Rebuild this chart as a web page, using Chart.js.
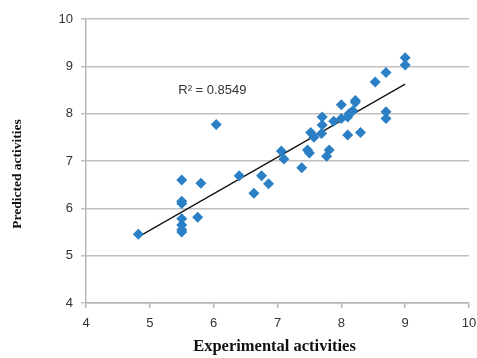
<!DOCTYPE html>
<html>
<head>
<meta charset="utf-8">
<script src="https://cdn.jsdelivr.net/npm/chart.js@4"></script>
<style>
  html, body { margin: 0; padding: 0; background: #fff; }
  #wrap { width: 477px; height: 358px; }
</style>
</head>
<body>
<div id="wrap"><canvas id="chart" width="477" height="358"></canvas></div>
<script>
// valores
var experimental = [4.82, 5.5, 5.5, 5.5, 5.5, 5.5, 5.5, 5.5, 5.75, 5.8,
  6.04, 6.4, 6.63, 6.75, 6.86, 7.06, 7.1, 7.38, 7.47, 7.5,
  7.52, 7.57, 7.69, 7.7, 7.7, 7.77, 7.81, 7.88, 8.0, 8.0,
  8.1, 8.12, 8.1, 8.18, 8.22, 8.22, 8.3, 8.53, 8.7, 8.7,
  8.7, 9.0, 9.0];
var predicted = [5.45, 6.6, 6.15, 6.1, 5.78, 5.65, 5.55, 5.5, 5.81, 6.53,
  7.77, 6.69, 6.32, 6.69, 6.52, 7.21, 7.04, 6.86, 7.23, 7.17,
  7.6, 7.5, 7.58, 7.76, 7.93, 7.1, 7.23, 7.84, 7.9, 8.19,
  7.93, 8.0, 7.55, 8.06, 8.28, 8.24, 7.6, 8.67, 8.87, 8.04,
  7.9, 9.18, 9.03];
var xTicks = [4, 5, 6, 7, 8, 9, 10];
var yTicks = [4, 5, 6, 7, 8, 9, 10];
var r2Label = 'R\u00b2 = 0.8549';

// linha de tendência por mínimos quadrados
function trendLine(xs, ys) {
  var n = xs.length, sx = 0, sy = 0, sxx = 0, sxy = 0;
  for (var i = 0; i < n; i++) {
    sx += xs[i]; sy += ys[i]; sxx += xs[i] * xs[i]; sxy += xs[i] * ys[i];
  }
  var b = (n * sxy - sx * sy) / (n * sxx - sx * sx);
  var a = (sy - b * sx) / n;
  var x0 = Math.min.apply(null, xs), x1 = Math.max.apply(null, xs);
  return [{ x: x0, y: a + b * x0 }, { x: x1, y: a + b * x1 }];
}

var points = experimental.map(function(x, i) { return { x: x, y: predicted[i] }; });

var titlesPlugin = {
  id: 'titles',
  afterDraw: function(chart) {
    var ctx = chart.ctx, area = chart.chartArea;
    var xs = chart.scales.x, ys = chart.scales.y;
    ctx.save();
    // R²
    ctx.font = '13px "Liberation Sans", Arial, sans-serif';
    ctx.fillStyle = '#333';
    ctx.textAlign = 'center';
    ctx.textBaseline = 'middle';
    ctx.fillText(r2Label, xs.getPixelForValue(5.98), ys.getPixelForValue(8.5));
    // títulos dos eixos
    ctx.fillStyle = '#111';
    ctx.font = 'bold 16.5px "Liberation Serif", "Times New Roman", serif';
    ctx.fillText('Experimental activities', (area.left + area.right) / 2 - 3, 347);
    ctx.font = 'bold 13.5px "Liberation Serif", "Times New Roman", serif';
    ctx.translate(18, 174);
    ctx.rotate(-Math.PI / 2);
    ctx.fillText('Predicted activities', 0, 0);
    ctx.restore();
  }
};

var tickFont = { family: '"Liberation Sans", Arial, sans-serif', size: 13 };

new Chart(document.getElementById('chart').getContext('2d'), {
  type: 'scatter',
  data: {
    datasets: [
      {
        data: points,
        pointStyle: 'rectRot',
        pointRadius: 5.5,
        pointHoverRadius: 5.5,
        backgroundColor: '#2b80c5',
        borderColor: '#2b80c5',
        borderWidth: 0
      },
      {
        type: 'line',
        data: trendLine(experimental, predicted),
        borderColor: '#111',
        borderWidth: 1.2,
        pointRadius: 0,
        fill: false
      }
    ]
  },
  options: {
    responsive: false,
    animation: false,
    layout: { padding: { left: 0, top: 19, right: 8, bottom: 0 } },
    plugins: { legend: { display: false }, tooltip: { enabled: false } },
    scales: {
      x: {
        type: 'linear',
        min: 4, max: 10,
        afterBuildTicks: function(scale) { scale.ticks = xTicks.map(function(v) { return { value: v }; }); },
        afterFit: function(scale) { scale.height = 55; scale.paddingLeft = 0; scale.paddingRight = 0; },
        border: { color: '#b5b5b5', width: 1.5 },
        grid: { drawOnChartArea: false, drawTicks: true, tickLength: 5, color: '#b5b5b5', lineWidth: 1.5 },
        ticks: { font: tickFont, color: '#333', padding: 8, maxRotation: 0 }
      },
      y: {
        type: 'linear',
        min: 4, max: 10,
        afterBuildTicks: function(scale) { scale.ticks = yTicks.map(function(v) { return { value: v }; }); },
        afterFit: function(scale) { scale.width = 86; scale.paddingTop = 0; scale.paddingBottom = 0; },
        border: { color: '#b5b5b5', width: 1.5 },
        grid: { color: '#c0c0c0', lineWidth: 1.5, tickLength: 5, drawTicks: true },
        ticks: { font: tickFont, color: '#333', padding: 8 }
      }
    }
  },
  plugins: [titlesPlugin]
});
</script>
</body>
</html>
